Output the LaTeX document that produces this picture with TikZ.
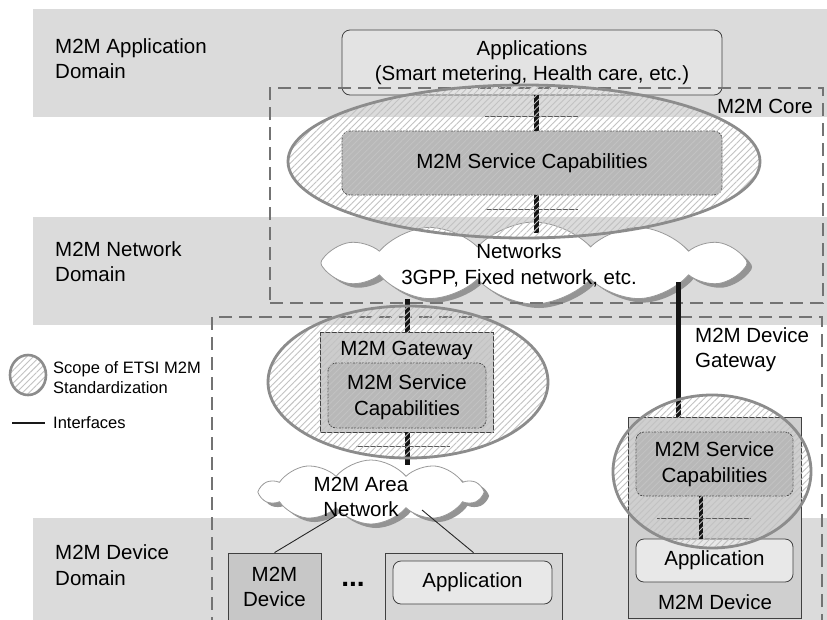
\documentclass[tikz,border=0pt]{standalone}
\usepackage{fontspec}
\setmainfont{Liberation Sans}
\usetikzlibrary{shapes.symbols,shapes.geometric,shadows,patterns.meta,calc}
\begin{document}
\begin{tikzpicture}[x=1pt,y=-1pt,
  txt/.style={font=\fontsize{20.5}{25.5}\selectfont, align=center, inner sep=0, text=black},
  small/.style={font=\fontsize{16.5}{20}\selectfont, align=left, inner sep=0, text=black},
  band/.style={fill=black!14, draw=none},
  box/.style={draw=black!75, line width=0.8pt, inner sep=0},
  scbox/.style={draw=black!70, line width=0.8pt, dash pattern=on 2pt off 1pt, rounded corners=8pt, inner sep=0, fill=black!28},
  rbox/.style={draw=black!75, line width=0.8pt, rounded corners=8pt, inner sep=0},
  scopedash/.style={draw=black!55, line width=2.8pt, dash pattern=on 13pt off 7pt},
  netcloud/.style={cloud, cloud ignores aspect, draw=black!40, line width=0.8pt, fill=white, inner sep=0,
     general shadow={fill=black!42, shadow xshift=5pt, shadow yshift=-4pt}},
  scopeell/.style={ellipse, inner sep=0, draw=black!45, line width=2.8pt,
     pattern={Lines[angle=45,distance=4.5pt,line width=0.9pt]}, pattern color=black!24},
  iface/.style={draw=black!92, line width=5pt},
  tick/.style={draw=black!65, line width=0.9pt},
  thin/.style={draw=black!85, line width=0.9pt}
]
\useasboundingbox (0,0) rectangle (827,619);
\clip (0,0) rectangle (827,619);
\fill[white] (0,0) rectangle (827,619);

% domain bands
\node[band, minimum width=794, minimum height=108, inner sep=0] (b1) at (430,63) {};
\node[band, minimum width=794, minimum height=108, inner sep=0] (b2) at (430,271) {};
\node[band, minimum width=794, minimum height=110, inner sep=0] (b3) at (430,573) {};

% clouds
\node[netcloud, cloud puffs=12, cloud puff arc=95, minimum width=426, minimum height=82] (net) at (534,263) {};
\node[netcloud, cloud puffs=10, cloud puff arc=100, minimum width=220, minimum height=64] (area) at (371,492) {};

% boxes
\node[rbox, fill=black!11, minimum width=380, minimum height=65] (app) at (532,62.5) {};
\node[scbox, minimum width=380, minimum height=64] (sc1) at (532,163) {};
\node[box, fill=black!20, minimum width=173, minimum height=100] (gw) at (406.5,382) {};
\node[scbox, minimum width=158, minimum height=65] (gwsc) at (407,395.5) {};
\node[box, fill=black!22, minimum width=93, minimum height=72] (dev1) at (274.5,589) {};
\node[box, fill=black!16, minimum width=177, minimum height=68] (appout) at (473.5,587) {};
\node[rbox, fill=black!9, minimum width=159, minimum height=43] (appin) at (472.5,582.5) {};
\node[box, fill=black!19, minimum width=173, minimum height=201.5] (dev2) at (714.5,517.75) {};
\node[scbox, minimum width=157, minimum height=64] (dev2sc) at (714.5,464) {};
\node[rbox, fill=black!9, minimum width=157, minimum height=43] (dev2app) at (714.5,560.5) {};

% scope rectangles
\node[scopedash, minimum width=553, minimum height=215, inner sep=0] (core) at (546.5,195.5) {};
\node[scopedash, minimum width=610, minimum height=340, inner sep=0] (lower) at (517,487) {};

% interfaces
\coordinate (netbot) at (407,299);
\coordinate (gwlTop) at (678,282);
\coordinate (scbot) at (536,233);
\coordinate (areatop) at (407,465);
\draw[iface] ($(app.south)+(4,0)$) -- ($(sc1.north)+(4,0)$);
\draw[iface] ($(sc1.south)+(4,0)$) -- (scbot);
\draw[iface] (netbot) -- (gw.north -| netbot);
\draw[iface] (gw.south -| areatop) -- (areatop);
\draw[iface] (gwlTop) -- (dev2.north -| gwlTop);
\draw[iface, line width=4pt] ($(dev2sc.south)+(-13.5,0)$) -- ($(dev2app.north)+(-13.5,0)$);

\coordinate (t1a) at (485,116); \coordinate (t1b) at (578,116);
\coordinate (t2a) at (485,209); \coordinate (t2b) at (578,209);
\coordinate (t3a) at (356,446); \coordinate (t3b) at (450,446);
\coordinate (t4a) at (657,518); \coordinate (t4b) at (751,518);
\draw[tick] (t1a) -- (t1b);
\draw[tick] (t2a) -- (t2b);
\draw[tick] (t3a) -- (t3b);
\draw[tick] (t4a) -- (t4b);

\coordinate (a1) at (337,515);
\coordinate (a2) at (422,510);
\draw[thin] (a1) -- (dev1.north);
\draw[thin] (a2) -- (appout.north);

% scope ellipses
\node[scopeell, minimum width=472, minimum height=153] (e1) at (524,161.5) {};
\node[scopeell, minimum width=280, minimum height=152] (e2) at (408,382) {};
\node[scopeell, minimum width=198, minimum height=153] (e3) at (712,471.5) {};
\node[scopeell, line width=2.6pt, minimum width=36, minimum height=40] (leg) at (28,375) {};

% texts
\node[txt, anchor=west, align=left] (t-app) at (55,58.5) {M2M Application\\Domain};
\node[txt, anchor=west, align=left] (t-net) at (55,261.5) {M2M Network\\Domain};
\node[txt, anchor=west, align=left] (t-dev) at (55,565) {M2M Device\\Domain};
\node[txt] (l-app) at (app.center) {Applications\\(Smart metering, Health care, etc.)};
\node[txt] (l-sc1) at (sc1.center) {M2M Service Capabilities};
\node[txt, anchor=east] (l-core) at (813,106) {M2M Core};
\node[txt] (l-net) at (519,265.5) {Networks\\3GPP, Fixed network, etc.};
\node[txt] (l-gw) at (406.5,350) {M2M Gateway};
\node[txt] (l-gwsc) at (407,397) {M2M Service\\Capabilities};
\node[txt] (l-area) at (361,497) {M2M Area\\Network};
\node[txt] (l-dev1) at (274.5,587) {M2M\\Device};
\node[txt, font=\fontsize{28}{30}\selectfont\bfseries] (l-dots) at (353,584) {...};
\node[txt] (l-appin) at (appin.center) {Application};
\node[txt, anchor=west, align=left] (l-dgw) at (695,349.5) {M2M Device\\Gateway};
\node[txt] (l-d2sc) at (dev2sc.center) {M2M Service\\Capabilities};
\node[txt] (l-d2app) at (dev2app.center) {Application};
\node[txt] (l-dev2) at (715,602) {M2M Device};

% legend
\node[small, anchor=west] (l-scope) at (53,378) {Scope of ETSI M2M\\Standardization};
\coordinate (lg1) at (12,423);
\coordinate (lg2) at (45,423);
\draw[draw=black!90, line width=1.6pt] (lg1) -- (lg2);
\node[small, anchor=west] (l-if) at (53,423) {Interfaces};
\end{tikzpicture}
\end{document}
